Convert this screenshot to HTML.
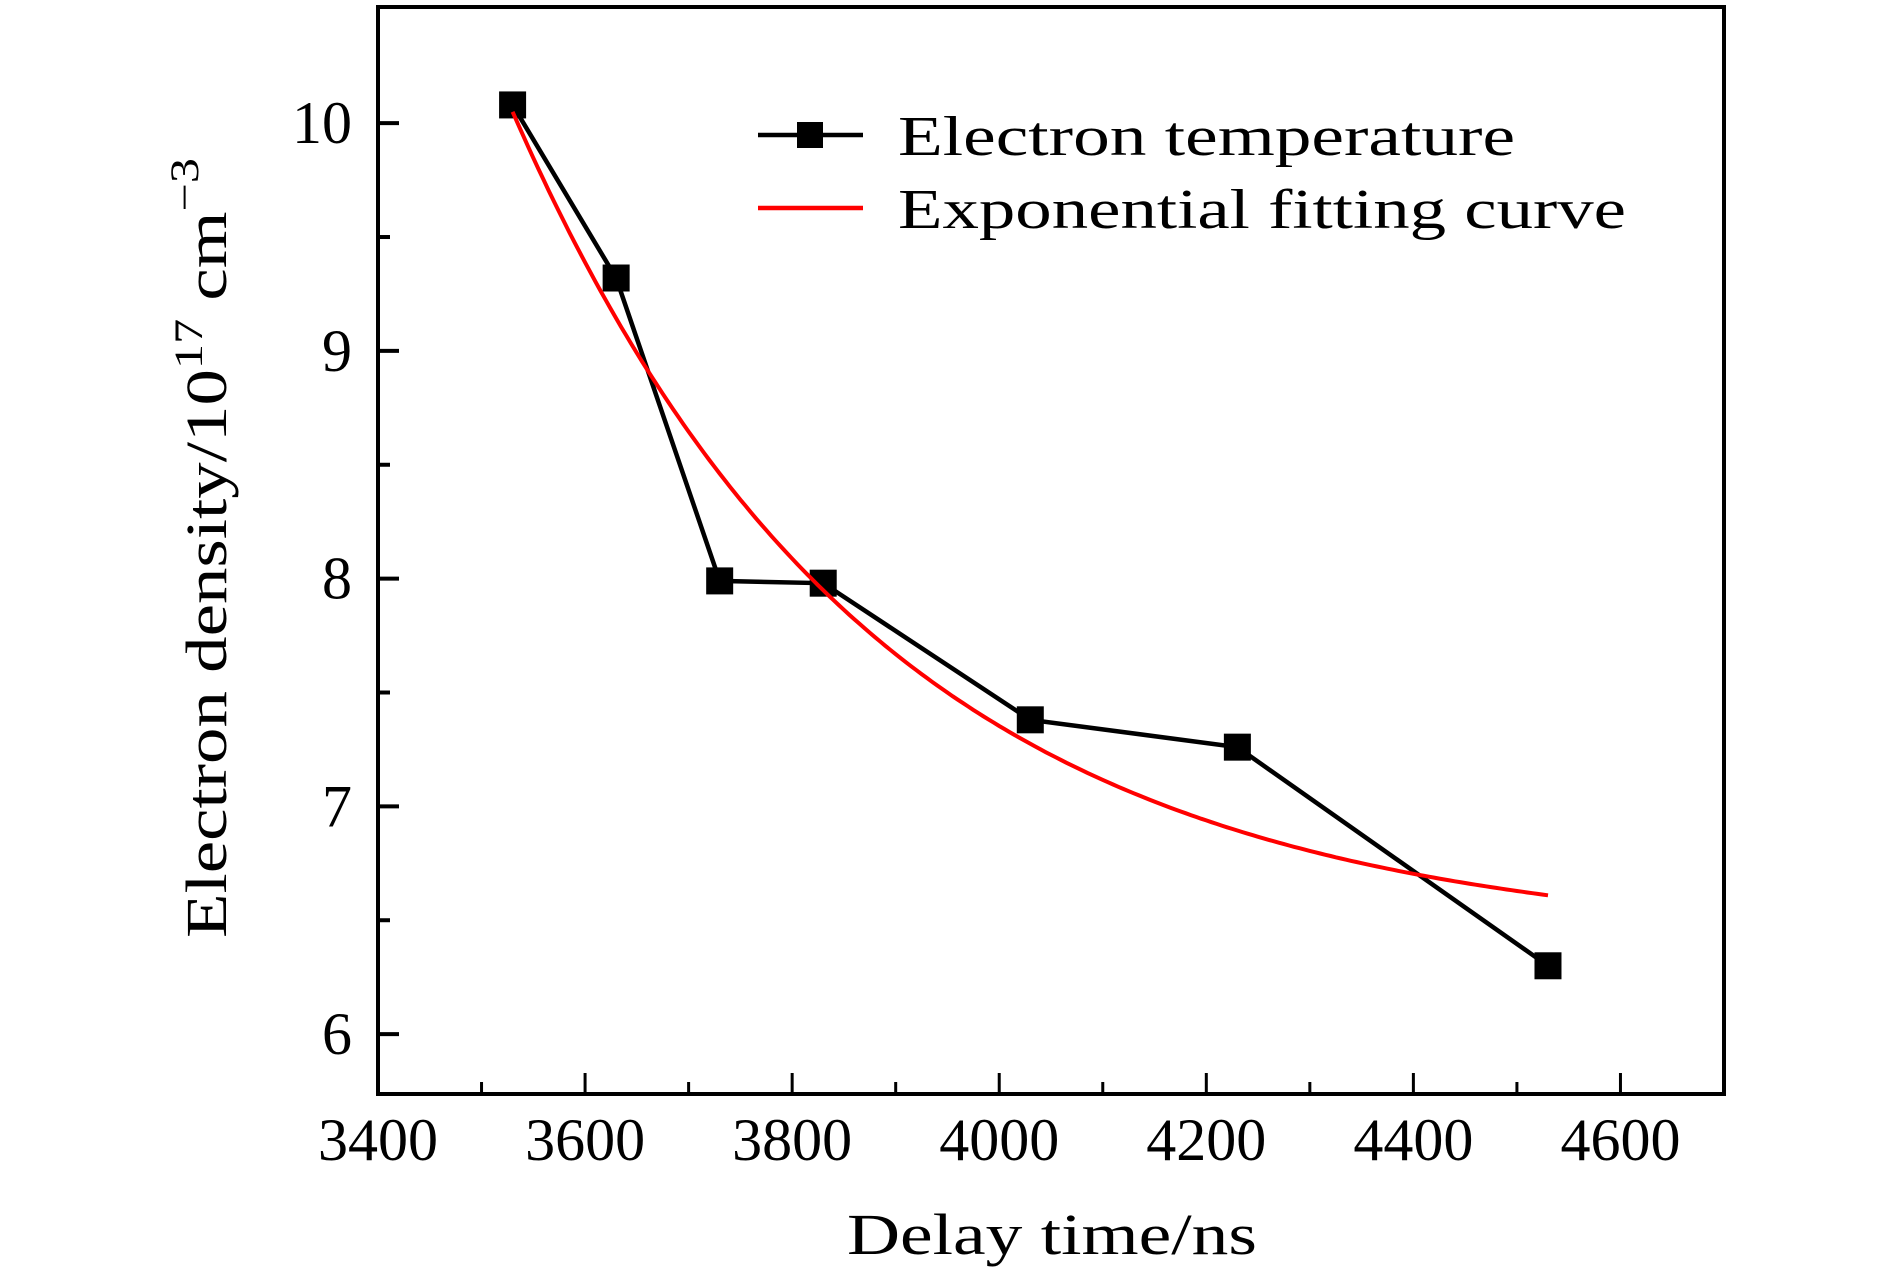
<!DOCTYPE html>
<html><head><meta charset="utf-8"><style>
html,body{margin:0;padding:0;background:#fff;}
svg{display:block;font-family:"Liberation Serif",serif;}
</style></head><body>
<svg id="chart" width="1890" height="1276" viewBox="0 0 1890 1276">
<g id="plot"></g>
</svg>
<script>
const xValues = [3530, 3630, 3730, 3830, 4030, 4230, 4530];
const yValues = [10.08, 9.32, 7.99, 7.98, 7.38, 7.26, 6.30];
const fitY0 = [6.4];
const fitA = [3.65];
const fitTau = [350];
const fitRange = [3530, 4530];
const xTicks = [3400, 3600, 3800, 4000, 4200, 4400, 4600];
const xMinor = [3500, 3700, 3900, 4100, 4300, 4500];
const yTicks = [6, 7, 8, 9, 10];
const yMinor = [6.5, 7.5, 8.5, 9.5];

const L=378,R=1724,T=7,B=1094, X0=3400,X1=4700, Y0=5.737,Y1=10.51;
const sx=v=>L+(v-X0)/(X1-X0)*(R-L);
const sy=v=>B-(v-Y0)/(Y1-Y0)*(B-T);
const NS='http://www.w3.org/2000/svg';
const g=document.getElementById('plot');
function mk(t,a){const e=document.createElementNS(NS,t);for(const k in a)e.setAttribute(k,a[k]);g.appendChild(e);return e;}

let d='';
for(let i=0;i<=200;i++){const x=fitRange[0]+(fitRange[1]-fitRange[0])*i/200;const y=fitY0[0]+fitA[0]*Math.exp(-(x-fitRange[0])/fitTau[0]);d+=(i?'L':'M')+sx(x).toFixed(1)+' '+sy(y).toFixed(1);}
let dl='';xValues.forEach((x,i)=>{dl+=(i?'L':'M')+sx(x)+' '+sy(yValues[i]);});
const ln=mk('path',{d:dl,fill:'none',stroke:'#000','stroke-width':4.5});


xValues.forEach((x,i)=>{const m=mk('rect',{x:sx(x)-13.5,y:sy(yValues[i])-13.5,width:27,height:27,fill:'#000'});

});
const fc=mk('path',{d:d,fill:'none',stroke:'#ff0000','stroke-width':4});



const fr=mk('rect',{x:L,y:T,width:R-L,height:B-T,fill:'none',stroke:'#000','stroke-width':4});



xTicks.forEach(v=>{const t=mk('line',{x1:sx(v),x2:sx(v),y1:B,y2:B-21,stroke:'#000','stroke-width':3});


const tx=mk('text',{x:sx(v),y:1160,'text-anchor':'middle','font-size':60});tx.textContent=v;

});
xMinor.forEach(v=>{const t=mk('line',{x1:sx(v),x2:sx(v),y1:B,y2:B-12,stroke:'#000','stroke-width':3});

});
yTicks.forEach(v=>{const t=mk('line',{x1:L,x2:L+21,y1:sy(v),y2:sy(v),stroke:'#000','stroke-width':4});


const tx=mk('text',{x:352,y:sy(v)+20,'text-anchor':'end','font-size':60});tx.textContent=v;

});
yMinor.forEach(v=>{const t=mk('line',{x1:L,x2:L+12,y1:sy(v),y2:sy(v),stroke:'#000','stroke-width':4});

});

const l1=mk('line',{x1:758,x2:863,y1:135,y2:135,stroke:'#000','stroke-width':4.5});


const l1m=mk('rect',{x:797,y:122,width:26,height:26,fill:'#000'});


const t1=mk('text',{x:898,y:155,'font-size':56,textLength:617,lengthAdjust:'spacingAndGlyphs'});t1.textContent='Electron temperature';


const l2=mk('line',{x1:758,x2:863,y1:208,y2:208,stroke:'#ff0000','stroke-width':4.5});


const t2=mk('text',{x:898,y:228,'font-size':56,textLength:728,lengthAdjust:'spacingAndGlyphs'});t2.textContent='Exponential fitting curve';



const xt=mk('text',{x:1052,y:1254,'text-anchor':'middle','font-size':58,textLength:410,lengthAdjust:'spacingAndGlyphs'});xt.textContent='Delay time/ns';


const yt=mk('text',{x:0,y:0,'font-size':58,transform:'translate(226,938) rotate(-90)'});


yt.innerHTML='<tspan>Electron density/10</tspan><tspan dy="-24" font-size="40">17</tspan><tspan dy="24"> cm</tspan><tspan dy="-28" font-size="40">−3</tspan>';
yt.setAttribute('textLength','780');
yt.setAttribute('lengthAdjust','spacingAndGlyphs');
</script>
</body></html>
